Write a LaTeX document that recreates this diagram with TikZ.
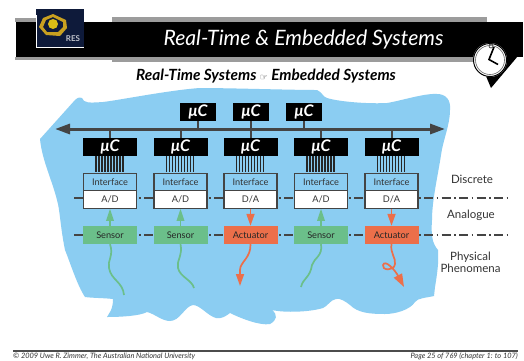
\documentclass[tikz,border=0pt]{standalone}
\usepackage{fontspec}
\setmainfont{Lato}
\newfontfamily\symfont{DejaVu Sans}
\usetikzlibrary{calc,arrows.meta}
\definecolor{sky}{HTML}{8BCDF2}
\definecolor{busgrey}{HTML}{444444}
\definecolor{greenbox}{HTML}{6BBF8A}
\definecolor{redbox}{HTML}{EC6F4A}
\definecolor{stripe}{HTML}{9C9C9C}
\definecolor{navy}{HTML}{0E1A3A}
\definecolor{gold}{HTML}{C9A020}
\tikzset{
  mcu/.style={fill=black,text=white,inner sep=0pt,font=\fontsize{16}{16}\selectfont\bfseries\itshape},
  topmcu/.style={mcu,minimum width=36,minimum height=18},
  lowmcu/.style={mcu,minimum width=54,minimum height=18},
  iface/.style={draw=busgrey,line width=1.1pt,fill=sky,inner sep=0pt,minimum width=53,minimum height=17.5,font=\fontsize{9.2}{9.2}\selectfont,text=black!80},
  conv/.style={iface,fill=white},
  sensorbox/.style={fill=greenbox,inner sep=0pt,minimum width=54,minimum height=18,font=\fontsize{9.2}{9.2}\selectfont,text=black!85},
  actbox/.style={sensorbox,fill=redbox},
  busline/.style={busgrey,line width=3pt},
  stem/.style={busgrey,line width=2pt},
  wire/.style={black!85,line width=1.6pt},
  levelline/.style={busgrey,line width=1.2pt,dash pattern=on 9pt off 3.5pt on 1.5pt off 3.5pt},
  greenarrow/.style={greenbox,line width=1.7pt},
  redarrow/.style={redbox,line width=1.7pt},
  greenhead/.style={-{Triangle[length=12pt,width=7.5pt]}},
  sidelabel/.style={inner sep=0pt,align=center,text=black!80,font=\fontsize{11.5}{11.5}\selectfont},
}
\begin{document}
\begin{tikzpicture}[x=1pt,y=-1pt]
\useasboundingbox (0,0) rectangle (524,360);
\clip (0,0) rectangle (524,360);
\fill[white] (0,0) rectangle (524,360);
% header
\fill[stripe] (15,17.5) rectangle (36,22);
\fill[stripe] (112,17) rectangle (487,22);
\fill[stripe] (15,57) rectangle (112,60);
\fill[stripe] (112,57) rectangle (476,62);
\fill[black] (16,22) rectangle (523,57);
\fill[black] (475,50) -- (523,50) -- (491,88) -- cycle;
% logo
\fill[navy] (36,9) rectangle (84,47);
\draw[white,line width=1pt] (36,15) -- (36,47) -- (84,47);
\fill[gold,even odd rule] (53,14) -- (66,20) -- (67,28) -- (60,36) -- (46,35) -- (39,27) -- (43,18) -- cycle
 (53,17) -- (63,22) -- (63,27) -- (58,32) -- (47,32) -- (43,27) -- (46,20) -- cycle;
\fill[gold!70!yellow] (53,24) circle (5);
\node (res) at (73,39) [inner sep=0pt,text=white!75!navy,font=\fontsize{8}{8}\selectfont\bfseries] {RES};
% clock
\fill[white] (490,60) circle (17);
\draw[black,line width=1pt] (490,60) circle (16.5);
\draw[black!60,line width=.6pt] (490,60) circle (14.5);
\draw[black,line width=1.6pt] (494,47) -- (489,59.5) -- (498,64.5);
\draw[black!70,line width=.8pt] (491,46) circle (2);
% titles
\node (title) at (303.5,40) [inner sep=0pt,text=white,font=\fontsize{21.2}{21.2}\selectfont\itshape] {Real-Time \& Embedded Systems};
\node (subtitle) at (266,76) [inner sep=0pt,font=\fontsize{15.4}{15.4}\selectfont\bfseries\itshape] {Real-Time Systems {\symfont\fontsize{9}{9}\selectfont\upshape\mdseries\color{black!75}\char"261E} Embedded Systems};
% background blob
\fill[sky] (40,139) -- (75,100) .. controls (78,97) and (81,97) .. (82,98)
 .. controls (84,103) and (88,103) .. (103,102) .. controls (120,100) and (170,90) .. (200,88)
 .. controls (230,88) and (290,90) .. (317,90) .. controls (322,92) and (323,97) .. (327,98)
 .. controls (340,102) and (370,104) .. (387,103) .. controls (400,101) and (425,93) .. (437,94)
 .. controls (446,94) and (451,100) .. (450,110) .. controls (450,125) and (443,140) .. (441,155)
 .. controls (438,175) and (432,200) .. (432,220) .. controls (431,235) and (432,243) .. (438,250)
 .. controls (439,262) and (437,275) .. (435,287) -- (434,296) .. controls (425,298) and (418,298) .. (415,302)
 .. controls (410,310) and (395,314) .. (385,314) .. controls (370,314) and (358,313) .. (350,305)
 .. controls (345,301) and (340,298) .. (336,299) .. controls (330,300) and (328,306) .. (323,308)
 .. controls (310,312) and (285,313) .. (272,310) .. controls (278,315) and (277,320) .. (270,324)
 .. controls (260,326) and (240,318) .. (230,313) .. controls (226,316) and (222,319) .. (216,318)
 .. controls (208,316) and (200,305) .. (193,305) .. controls (185,306) and (180,321) .. (170,321)
 .. controls (162,321) and (155,314) .. (147,312) .. controls (140,316) and (120,317) .. (107,317)
 .. controls (109,313) and (113,310) .. (113,299) .. controls (105,298) and (92,298) .. (85,297)
 .. controls (77,285) and (70,262) .. (65,250) .. controls (60,225) and (60,210) .. (57,200)
 .. controls (52,180) and (42,160) .. (40,139) -- cycle;
% level lines
\coordinate (dl) at (74,198);
\coordinate (dr) at (507,198);
\coordinate (al) at (74,235);
\coordinate (ar) at (507,235);
\draw[levelline] (dl) -- (dr);
\draw[levelline] (al) -- (ar);
% bus
\coordinate (busl) at (55,129);
\coordinate (busr) at (445,129);
\draw[busline,{Triangle[length=15pt,width=10pt]}-{Triangle[length=15pt,width=10pt]}] (busl) -- (busr);
% top controllers
\node[topmcu] (t1) at (198,112) {μC};
\node[topmcu] (t2) at (251,112) {μC};
\node[topmcu] (t3) at (304,112) {μC};
\foreach \t in {t1,t2,t3} \draw[stem] (\t.south) -- (\t.south |- busl);
% columns
\foreach \n/\x/\conv/\dev/\st in {1/110/A\slash D/Sensor/sensorbox,2/180.5/A\slash D/Sensor/sensorbox,3/250.5/D\slash A/Actuator/actbox,4/321/A\slash D/Sensor/sensorbox,5/391.5/D\slash A/Actuator/actbox}{
  \node[lowmcu] (m\n) at (\x,147) {μC};
  \node[iface] (i\n) at (\x,182) {Interface};
  \node[conv] (c\n) at (\x,199.5) {\conv};
  \node[\st] (d\n) at (\x,235) {\dev};
  \draw[stem] (m\n.north) -- (m\n.north |- busl);
  \foreach \o in {-14,-11,-8,-5,-2,1,4,7,10,13}
    \draw[wire] ($(m\n.south)+(\o,0)$) -- ($(i\n.north)+(\o,-.5)$);
}
% sensor arrows
\foreach \n in {1,2,4}
  \draw[greenarrow,greenhead] (d\n.north) -- (c\n.south);
\foreach \n in {3,5}
  \draw[redarrow,-{Triangle[length=12pt,width=8pt]}] (c\n.south) -- (d\n.north);
% wavy connectors
\coordinate (w1) at (124,295);
\coordinate (w2) at (194,288);
\coordinate (w3) at (240,286);
\coordinate (w4) at (301,287);
\coordinate (w5) at (404,287);
\draw[greenarrow] (d1.south) .. controls (114,255) and (107,262) .. (109,268) .. controls (111,280) and (123,282) .. (w1);
\draw[greenarrow] (d2.south) .. controls (183,255) and (176,262) .. (178,268) .. controls (180,277) and (192,280) .. (w2);
\draw[redarrow,-{Triangle[length=12pt,width=8pt]}] (d3.south) .. controls (251,258) and (240,262) .. (240,270) -- (w3);
\draw[greenarrow] (d4.south) .. controls (323,256) and (314,258) .. (312,265) .. controls (310,278) and (303,278) .. (w4);
\draw[redarrow,-{Triangle[length=13pt,width=9pt]}] (d5.south) .. controls (390,253) and (396,258) .. (395,264) .. controls (394,272) and (381,270) .. (383,265) .. controls (385,259) and (395,270) .. (w5);
% side labels
\node[sidelabel] (ld) at (472,179) {Discrete};
\node[sidelabel] (la) at (471,215) {Analogue};
\node[sidelabel] (lp) at (470.5,262.5) {Physical\\Phenomena};
% footer
\coordinate (fl) at (13,351);
\coordinate (fr) at (518,351);
\draw[black!70,line width=1.2pt] (fl) -- (fr);
\node (fa) at (13,356) [anchor=west,inner sep=0pt,font=\fontsize{7.4}{7.4}\selectfont\itshape,text=black!80] {© 2009 Uwe R. Zimmer, The Australian National University};
\node (fb) at (518,356) [anchor=east,inner sep=0pt,font=\fontsize{7.4}{7.4}\selectfont\itshape,text=black!80] {Page 25 of 769 (chapter 1: to 107)};
\end{tikzpicture}
\end{document}
